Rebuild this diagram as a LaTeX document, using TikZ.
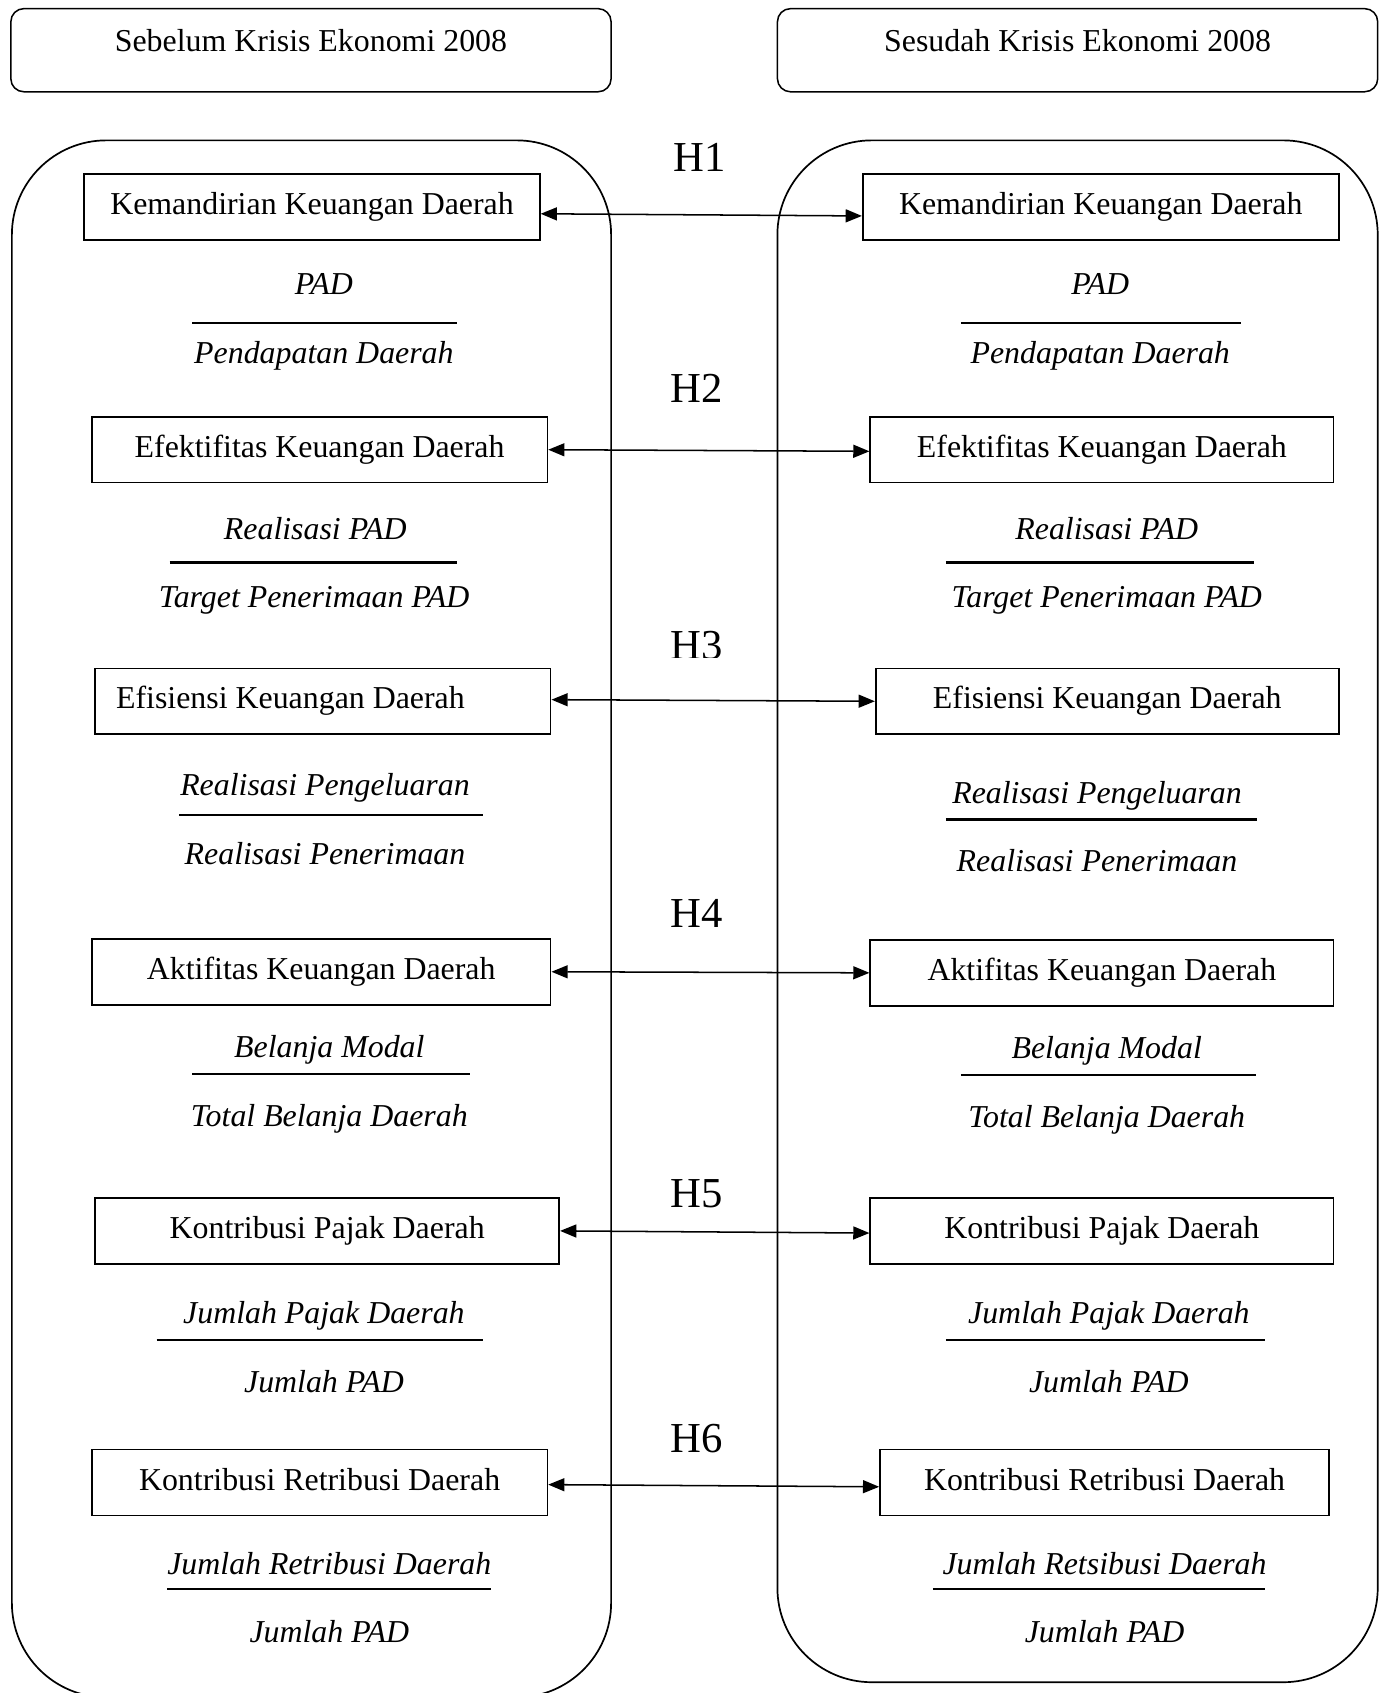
\documentclass[tikz,border=0pt]{standalone}
\usepackage{fontspec}
\setmainfont{Liberation Serif}
\usetikzlibrary{arrows.meta}
\begin{document}
\begin{tikzpicture}[x=0.02cm,y=-0.02cm,
  every node/.style={font=\fontsize{16.8}{20}\selectfont, inner sep=0pt, text height=11.8pt, text depth=3.8pt},
  kbox/.style={draw, line width=0.9pt, minimum height=1.22cm},
  hdr/.style={draw, line width=0.8pt, rounded corners=0.24cm, minimum width=11.12cm, minimum height=1.54cm, text depth=10.1pt},
  cont/.style={line width=0.9pt, rounded corners=1.75cm},
  itx/.style={anchor=base, font=\fontsize{16.8}{20}\selectfont\itshape},
  fracline/.style={line width=1.1pt},
  hlab/.style={anchor=base, font=\fontsize{22.5}{26}\selectfont},
  link/.style={line width=0.8pt, {Triangle[length=0.3cm,width=0.24cm]}-{Triangle[length=0.3cm,width=0.24cm]}}]
\clip (0,0) rectangle (1285,1568);

% headers
\node[hdr] (hl) at (288,46.5) {Sebelum Krisis Ekonomi 2008};
\node[hdr] (hr) at (998,46.5) {Sesudah Krisis Ekonomi 2008};

% containers
\draw[cont] (11,130) rectangle (566,1572);
\draw[cont] (720,130) rectangle (1276,1558);

% left boxes
\node[kbox, minimum width=8.44cm] (l1) at (289,191.5) {Kemandirian Keuangan Daerah};
\node[kbox, minimum width=8.44cm] (l2) at (296,416.5) {Efektifitas Keuangan Daerah};
\node[kbox, minimum width=8.44cm] (l3) at (299,649.5) {Efisiensi Keuangan Daerah\hspace*{1.2cm}};
\node[kbox, minimum width=8.50cm] (l4) at (297.5,900) {Aktifitas Keuangan Daerah};
\node[kbox, minimum width=8.60cm] (l5) at (303,1140) {Kontribusi Pajak Daerah};
\node[kbox, minimum width=8.44cm] (l6) at (296,1373) {Kontribusi Retribusi Daerah};

% right boxes
\node[kbox, minimum width=8.82cm] (r1) at (1019.5,191.5) {Kemandirian Keuangan Daerah};
\node[kbox, minimum width=8.58cm] (r2) at (1020.5,416.5) {Efektifitas Keuangan Daerah};
\node[kbox, minimum width=8.58cm] (r3) at (1025.5,649.5) {Efisiensi Keuangan Daerah};
\node[kbox, minimum width=8.58cm] (r4) at (1020.5,901) {Aktifitas Keuangan Daerah};
\node[kbox, minimum width=8.58cm] (r5) at (1020.5,1140) {Kontribusi Pajak Daerah};
\node[kbox, minimum width=8.32cm] (r6) at (1023,1373) {Kontribusi Retribusi Daerah};

% left fractions
\node[itx] (ln1) at (300,273) {PAD};
\draw[fracline] (178,299) -- (423,299);
\node[itx] (ld1) at (300,337) {Pendapatan Daerah};
\node[itx] (ln2) at (292,500) {Realisasi PAD};
\draw[fracline] (157,521) -- (423,521);
\node[itx] (ld2) at (291,563) {Target Penerimaan PAD};
\node[itx] (ln3) at (301,737) {Realisasi Pengeluaran};
\draw[fracline] (166,755) -- (447,755);
\node[itx] (ld3) at (301,801) {Realisasi Penerimaan};
\node[itx] (ln4) at (305,979) {Belanja Modal};
\draw[fracline] (178,995) -- (435,995);
\node[itx] (ld4) at (305,1043) {Total Belanja Daerah};
\node[itx] (ln5) at (300,1226) {Jumlah Pajak Daerah};
\draw[fracline] (145,1241) -- (447,1241);
\node[itx] (ld5) at (300,1290) {Jumlah PAD};
\node[itx] (ln6) at (305,1458) {Jumlah Retribusi Daerah};
\draw[fracline] (155,1472) -- (455,1472);
\node[itx] (ld6) at (305,1521) {Jumlah PAD};

% right fractions
\node[itx] (rn1) at (1019,273) {PAD};
\draw[fracline] (890,299) -- (1149,299);
\node[itx] (rd1) at (1019,337) {Pendapatan Daerah};
\node[itx] (rn2) at (1025,500) {Realisasi PAD};
\draw[fracline] (876,521) -- (1161,521);
\node[itx] (rd2) at (1025,563) {Target Penerimaan PAD};
\node[itx] (rn3) at (1016,744) {Realisasi Pengeluaran};
\draw[fracline] (876,759) -- (1164,759);
\node[itx] (rd3) at (1016,807) {Realisasi Penerimaan};
\node[itx] (rn4) at (1025,980) {Belanja Modal};
\draw[fracline] (890,996) -- (1163,996);
\node[itx] (rd4) at (1025,1044) {Total Belanja Daerah};
\node[itx] (rn5) at (1027,1226) {Jumlah Pajak Daerah};
\draw[fracline] (876,1241) -- (1172,1241);
\node[itx] (rd5) at (1027,1290) {Jumlah PAD};
\node[itx] (rn6) at (1023,1458) {Jumlah Retsibusi Daerah};
\draw[fracline] (864,1472) -- (1172,1472);
\node[itx] (rd6) at (1023,1521) {Jumlah PAD};

% hypothesis labels
\node[hlab] (h1) at (648,159) {H1};
\node[hlab] (h2) at (645,373) {H2};
\begin{scope}
\clip (590,560) rectangle (700,609);
\node[hlab] (h3) at (645,611) {H3};
\end{scope}
\node[hlab] (h4) at (645,859) {H4};
\node[hlab] (h5) at (645,1118) {H5};
\node[hlab] (h6) at (645,1345) {H6};

% links
\draw[link] ([yshift=-0.13cm]l1.east) -- ([yshift=-0.17cm]r1.west);
\draw[link] (l2.east) -- ([yshift=-0.03cm]r2.west);
\draw[link] ([yshift=0.03cm]l3.east) -- (r3.west);
\draw[link] (l4.east) -- (r4.west);
\draw[link] (l5.east) -- ([yshift=-0.04cm]r5.west);
\draw[link] ([yshift=-0.04cm]l6.east) -- ([yshift=-0.08cm]r6.west);
\end{tikzpicture}
\end{document}
